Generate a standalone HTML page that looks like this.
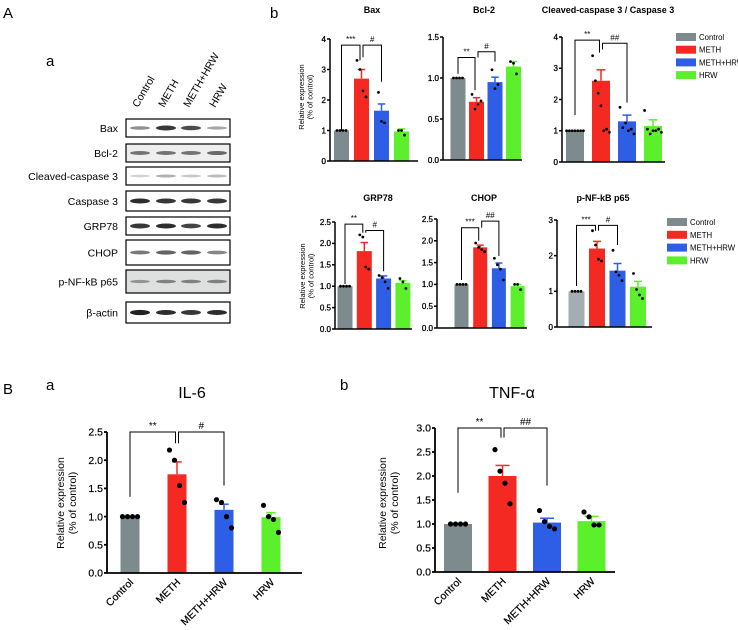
<!DOCTYPE html>
<html><head><meta charset="utf-8">
<style>
html,body{margin:0;padding:0;background:#fff;}
svg{display:block;font-family:"Liberation Sans",Arial,sans-serif;}
</style></head>
<body>
<svg id="fig" width="738" height="630" viewBox="0 0 738 630" xmlns="http://www.w3.org/2000/svg">
<text x="3" y="18" font-size="15">A</text>
<text x="46" y="66" font-size="15">a</text>
<text x="270" y="18" font-size="15">b</text>
<text x="3" y="394" font-size="15">B</text>
<text x="46" y="390" font-size="15">a</text>
<text x="340" y="390" font-size="15">b</text>
<g id="blot"></g>
<g id="charts"></g>
</svg>
<script>
const groups = ["Control","METH","METH+HRW","HRW"];
const colors = ["#7d8b8e","#f42a22","#2f5ee6","#5cef2c"];

const baxMeans=[1,2.7,1.65,0.97], baxSem=[0,0.3,0.22,0.08];
const baxDots=[[1,1,1,1],[3.3,3.0,2.3,2.1],[2.25,1.3,1.25],[1.0,1.0,0.85]];
const baxSig=[[0,1,3.8,1.0,3.3,"***"],[1,2,3.8,3.4,2.6,"#"]];

const bclMeans=[1,0.71,0.95,1.14], bclSem=[0,0.05,0.06,0.06];
const bclDots=[[1,1,1,1],[0.8,0.62,0.68,0.72],[1.1,0.87,0.92],[1.2,1.18,1.05]];
const bclSig=[[0,1,1.25,1.05,0.85,"**"],[1,2,1.32,1.25,1.2,"#"]];

const casMeans=[1,2.6,1.3,1.15], casSem=[0,0.35,0.2,0.2];
const casDots=[[1,1,1,1,1,1,1],[3.4,2.6,2.2,1.8,1.0,1.05,0.95],[1.75,1.1,1.25,1.0,1.05,0.9],[1.65,1.05,0.9,1.0,1.0,1.05,0.95]];
const casSig=[[0,1,3.9,1.5,3.5,"**"],[1,2,3.8,3.6,1.9,"##"]];

const grpMeans=[1,1.82,1.18,1.08], grpSem=[0,0.2,0.06,0.05];
const grpDots=[[1,1,1,1],[2.2,2.15,1.45,1.4],[1.25,1.2,1.1,0.95],[1.18,1.1,0.95]];
const grpSig=[[0,1,2.45,1.05,2.25,"**"],[1,2,2.3,2.25,1.35,"#"]];

const chopMeans=[1,1.85,1.37,0.96], chopSem=[0,0.05,0.12,0.04];
const chopDots=[[1,1,1,1],[1.95,1.85,1.8,1.75],[1.6,1.45,1.35,1.1],[1.0,1.0,0.88]];
const chopSig=[[0,1,2.3,1.1,2.0,"***"],[1,2,2.45,2.3,1.65,"##"]];

const nfMeans=[1,2.2,1.58,1.13], nfSem=[0,0.2,0.2,0.15];
const nfDots=[[1,1,1,1],[2.7,2.3,1.9,1.85],[2.15,1.55,1.45,1.3],[1.5,1.05,0.9,0.8]];
const nfSig=[[0,1,2.85,1.15,2.7,"***"],[1,2,2.85,2.7,2.3,"#"]];

const ilMeans=[1,1.75,1.12,0.99], ilSem=[0,0.22,0.1,0.08];
const ilDots=[[1,1,1,1],[2.18,2.0,1.55,1.25],[1.3,1.25,1.0,0.8],[1.2,1.0,0.95,0.72]];
const ilSig=[[0,1,2.5,1.35,2.3,"**"],[1,2,2.5,2.3,1.55,"#"]];

const tnfMeans=[1,2.0,1.03,1.06], tnfSem=[0,0.22,0.09,0.1];
const tnfDots=[[1,1,1,1],[2.55,2.1,1.85,1.42],[1.28,1.05,0.95,0.9],[1.25,1.15,0.98,0.98]];
const tnfSig=[[0,1,3.0,1.65,2.8,"**"],[1,2,3.0,2.8,1.8,"##"]];

const tick5=[0,1,2,3,4], tickBcl=[0,0.5,1.0,1.5], tick25=[0,0.5,1.0,1.5,2.0,2.5], tick3=[0,1,2,3], tick30=[0,0.5,1.0,1.5,2.0,2.5,3.0];

const NS="http://www.w3.org/2000/svg";
function mk(tag,attrs,parent){const e=document.createElementNS(NS,tag);for(const k in attrs)e.setAttribute(k,attrs[k]);parent.appendChild(e);return e;}

function chart(c){
  const g=mk('g',{},document.getElementById('charts'));
  
  
  const sy=v=>c.y0-(v/c.ymax)*(c.y0-c.yTop);
  const cx=i=>c.b0+i*c.sp;
  const t=mk('text',{x:c.tx,y:c.ty,'font-size':c.tfs,'font-weight':c.tbold?'bold':'normal','text-anchor':'middle'},g);
  t.textContent=c.title;
  
  
  c.means.forEach((m,i)=>{
    const col=(i===0&&c.ctrlColor)?c.ctrlColor:colors[i];
    const r=mk('rect',{x:cx(i)-c.bw/2,y:sy(m),width:c.bw,height:c.y0-sy(m),fill:col},g);
    
    
    if(c.sem[i]>0){
      mk('line',{x1:cx(i),x2:cx(i),y1:sy(m),y2:sy(m+c.sem[i]),stroke:col,'stroke-width':1.5},g);
      mk('line',{x1:cx(i)-c.bw*0.25,x2:cx(i)+c.bw*0.25,y1:sy(m+c.sem[i]),y2:sy(m+c.sem[i]),stroke:col,'stroke-width':1.5},g);
    }
    const d=c.dots[i];
    d.forEach((v,k)=>{
      const off=(k-(d.length-1)/2)*c.dsp;
      const p=mk('circle',{cx:cx(i)+off,cy:sy(v),r:c.dr,fill:'#000'},g);
      
      
    });
  });
  mk('line',{x1:c.ax,x2:c.ax,y1:c.yTop,y2:c.y0,stroke:'#000','stroke-width':c.aw},g);
  mk('line',{x1:c.ax,x2:c.xEnd,y1:c.y0,y2:c.y0,stroke:'#000','stroke-width':c.aw},g);
  c.ticks.forEach(v=>{
    mk('line',{x1:c.ax-3,x2:c.ax,y1:sy(v),y2:sy(v),stroke:'#000','stroke-width':c.aw},g);
    const tl=mk('text',{x:c.ax-4,y:sy(v)+c.fs*0.35,'font-size':c.fs,'text-anchor':'end',stroke:'#000','stroke-width':c.tsw},g);
    tl.textContent=c.dec?v.toFixed(1):String(v);
    
    
  });
  if(c.ylx){
    const yl=mk('text',{transform:`translate(${c.ylx},${c.yly}) rotate(-90)`,'font-size':c.yfs,'text-anchor':'middle'},g);
    
    
    const a=mk('tspan',{x:0,y:0},yl);a.textContent='Relative expression';
    const b=mk('tspan',{x:0,y:c.yfs*1.15},yl);b.textContent='(% of control)';
  }
  if(c.xlab){
    groups.forEach((gname,i)=>{
      const xl=mk('text',{transform:`translate(${cx(i)+4},${c.y0+10}) rotate(-45)`,'font-size':c.fs,'text-anchor':'end',stroke:'#000','stroke-width':c.tsw},g);
      xl.textContent=gname;
      
      
    });
  }
  c.sig.forEach(s=>{
    const [i,j,tp,lo1,lo2,lab]=s;
    const x1=cx(i)+(i===1?1.5:0), x2=cx(j)-(j===1?1.5:0);
    mk('path',{d:`M${x1},${sy(lo1)}V${sy(tp)}H${x2}V${sy(lo2)}`,fill:'none',stroke:'#000','stroke-width':1},g);
    const st=mk('text',{x:(x1+x2)/2,y:sy(tp)-3,'font-size':c.sfs,'text-anchor':'middle'},g);
    st.textContent=lab;
    
    
  });
}

const topCfg={tfs:9,tbold:true,fs:8,dr:1.4,dsp:3,aw:1.5,yfs:7.5,sfs:8,tsw:0.3};
chart(Object.assign({},topCfg,{name:'bax-chart',title:'Bax',tx:372,ty:13,ax:330,xEnd:418,yTop:39,y0:161,ymax:4,ticks:tick5,dec:false,b0:341.5,sp:20,bw:15,means:baxMeans,sem:baxSem,dots:baxDots,sig:baxSig,ylx:304,yly:97}));
chart(Object.assign({},topCfg,{name:'bcl2-chart',title:'Bcl-2',tx:484,ty:13,ax:443,xEnd:522,yTop:37,y0:160,ymax:1.5,ticks:tickBcl,dec:true,b0:458,sp:18.5,bw:15,means:bclMeans,sem:bclSem,dots:bclDots,sig:bclSig}));
chart(Object.assign({},topCfg,{name:'cleaved-caspase3-chart',title:'Cleaved-caspase 3 / Caspase 3',tx:608,ty:13,ax:562,xEnd:665,yTop:37,y0:162,ymax:4,ticks:tick5,dec:false,b0:575,sp:26,bw:18,means:casMeans,sem:casSem,dots:casDots,sig:casSig,dsp:2.8}));
chart(Object.assign({},topCfg,{name:'grp78-chart',title:'GRP78',tx:378,ty:201,ax:335,xEnd:412,yTop:222,y0:329,ymax:2.5,ticks:tick25,dec:true,b0:345,sp:19.3,bw:15,means:grpMeans,sem:grpSem,dots:grpDots,sig:grpSig,ylx:305,yly:276}));
chart(Object.assign({},topCfg,{name:'chop-chart',title:'CHOP',tx:484,ty:201,ax:437,xEnd:527,yTop:219,y0:328,ymax:2.5,ticks:tick25,dec:true,b0:461.5,sp:18.7,bw:14,means:chopMeans,sem:chopSem,dots:chopDots,sig:chopSig}));
chart(Object.assign({},topCfg,{name:'p-nfkb-p65-chart',title:'p-NF-kB p65',tx:603,ty:201,ax:557,xEnd:652,yTop:220,y0:327,ymax:3,ticks:tick3,dec:false,b0:576.5,sp:20.5,bw:16,means:nfMeans,sem:nfSem,dots:nfDots,sig:nfSig,ctrlColor:'#a3adb2'}));
const botCfg={tfs:16,tbold:false,fs:10.5,dr:2.6,dsp:5,aw:1.8,yfs:10.5,sfs:10,xlab:true,tsw:0.2};
chart(Object.assign({},botCfg,{name:'il6-chart',title:'IL-6',tx:192,ty:398,ax:107,xEnd:302,yTop:432,y0:573,ymax:2.5,ticks:tick25,dec:true,b0:130,sp:47,bw:19,means:ilMeans,sem:ilSem,dots:ilDots,sig:ilSig,ylx:64,yly:503}));
chart(Object.assign({},botCfg,{name:'tnf-alpha-chart',title:'TNF-α',tx:512,ty:398,ax:435,xEnd:615,yTop:428,y0:572,ymax:3,ticks:tick30,dec:true,b0:458,sp:44.5,bw:28,means:tnfMeans,sem:tnfSem,dots:tnfDots,sig:tnfSig,ylx:386,yly:503}));

function legend(x,y0,dy,name){
  const g=mk('g',{},document.getElementById('charts'));
  
  
  groups.forEach((gn,i)=>{
    const y=y0+i*dy;
    const r=mk('rect',{x:x,y:y-4,width:20,height:8,fill:colors[i]},g);
    
    
    const t=mk('text',{x:x+23,y:y+3,'font-size':7.8},g);
    t.textContent=gn;
    
    
  });
}
legend(676,37,12.7,'legend-top');
legend(667,222,12.8,'legend-bottom');

const blotRows=["Bax","Bcl-2","Cleaved-caspase 3","Caspase 3","GRP78","CHOP","p-NF-kB p65","β-actin"];
const blotTop=[119,144,167,191,217,240,270,302];
const blotH=[18,18,18,20,18,25,23,21];
const blotBg=["#fff","#eee","#fff","#fff","#fff","#fff","#dde0df","#fff"];
const blotInt=[[0.5,0.9,0.8,0.4],[0.6,0.6,0.6,0.65],[0.2,0.35,0.25,0.3],[0.95,0.9,0.9,0.9],[0.9,0.95,0.85,0.95],[0.6,0.7,0.7,0.55],[0.4,0.5,0.5,0.5],[1,0.95,0.9,0.95]];
const laneX=[140,166,191,217];
const bl=document.getElementById('blot');
blotRows.forEach((n,r)=>{
  const lab=mk('text',{x:118,y:blotTop[r]+blotH[r]/2+4,'font-size':10.5,'text-anchor':'end'},bl);
  lab.textContent=n;
  
  
  mk('rect',{x:126,y:blotTop[r],width:104,height:blotH[r],fill:blotBg[r],stroke:'#000','stroke-width':1.2},bl);
  laneX.forEach((lx,k)=>{
    const v=blotInt[r][k];
    const e=mk('ellipse',{cx:lx,cy:blotTop[r]+blotH[r]/2,rx:10,ry:1+v*1.6,fill:'#222','fill-opacity':v},bl);
    
    
  });
});
groups.forEach((gn,k)=>{
  const t=mk('text',{transform:`translate(${laneX[k]-2},${108}) rotate(-60)`,'font-size':10.5},bl);
  t.textContent=gn;
  
  
});
</script>
</body></html>
